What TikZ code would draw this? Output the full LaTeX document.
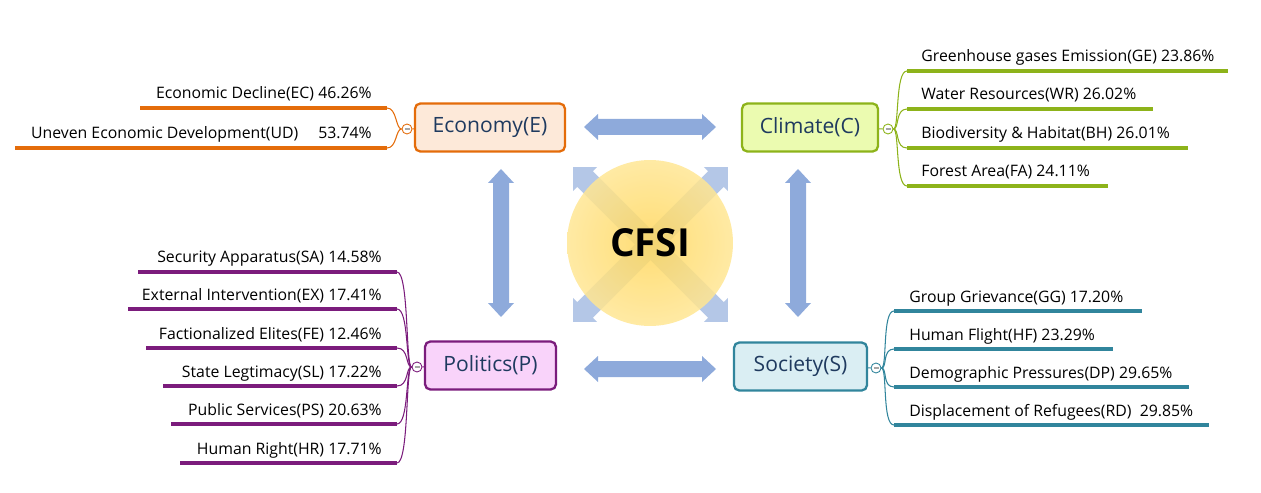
\documentclass[tikz,border=0pt]{standalone}
\usepackage{fontspec}
\setmainfont{Open Sans}
\usepackage{tikz}
\usetikzlibrary{positioning}
\definecolor{econline}{HTML}{E46C0A}
\definecolor{econfill}{HTML}{FDE9D9}
\definecolor{climline}{HTML}{8DB31A}
\definecolor{climfill}{HTML}{EBFBB0}
\definecolor{politline}{HTML}{7B1C7C}
\definecolor{politfill}{HTML}{F9D3FA}
\definecolor{socline}{HTML}{31859C}
\definecolor{socfill}{HTML}{DAEEF3}
\definecolor{arrowblue}{HTML}{8EAADB}
\definecolor{crossblue}{HTML}{B4C7E7}
\definecolor{labelblue}{HTML}{1F3A5F}
\definecolor{coreinner}{HTML}{FFD75C}
\definecolor{coreouter}{HTML}{FFE694}

% centre, angle, length, shaft half, head half, head length, colour
\newcommand{\dblarrow}[7]{%
	\begin{scope}[shift={#1},rotate=#2]
		\fill[#7] ({-#3/2},0) -- ({-#3/2+#6},{-#5}) -- ({-#3/2+#6},{-#4}) -- ({#3/2-#6},{-#4})
			-- ({#3/2-#6},{-#5}) -- ({#3/2},0) -- ({#3/2-#6},{#5}) -- ({#3/2-#6},{#4})
			-- ({-#3/2+#6},{#4}) -- ({-#3/2+#6},{#5}) -- cycle;
	\end{scope}}

\begin{document}
\begin{tikzpicture}[x=0.02cm, y=-0.02cm,
	factor/.style={draw=#1, line width=1.3pt, rounded corners=3pt, minimum height=0.96cm,
		font=\fontsize{12}{14}\selectfont, text=labelblue},
	item/.style={font=\fontsize{9}{11}\selectfont, inner sep=0pt},
	knob/.style={circle, draw=#1, fill=white, line width=0.5pt, minimum size=0.2cm, inner sep=0pt,
		node contents={\textcolor{gray!70}{\rule{0.1cm}{0.6pt}}}},
	twig/.style={draw=#1, line width=0.6pt},
	underline/.style={draw=#1, line width=2.2pt}]
	\path[use as bounding box] (0,0) rectangle (1261,493);

	% cross behind the core
	\dblarrow{(650.5,244.5)}{45}{219}{11}{17}{17}{crossblue}
	\dblarrow{(650.5,244.5)}{-45}{219}{11}{17}{17}{crossblue}
	% core
	\node[circle, minimum size=3.32cm, inner color=coreinner, outer color=coreouter,
		fill opacity=0.85, text opacity=1, font=\fontsize{22}{24}\selectfont\bfseries] (core) at (650,243) {CFSI};

	% links between factors
	\dblarrow{(650,127)}{0}{132}{8}{13}{14}{arrowblue}
	\dblarrow{(650,369)}{0}{132}{8}{13}{14}{arrowblue}
	\dblarrow{(501,243)}{90}{148}{8}{13}{14}{arrowblue}
	\dblarrow{(798,243)}{90}{148}{8}{13}{14}{arrowblue}

	% factors
	\node[factor=econline, fill=econfill, minimum width=3cm] (economy) at (490,127.5) {Economy(E)};
	\node[factor=climline, fill=climfill, minimum width=2.72cm] (climate) at (810,127.5) {Climate(C)};
	\node[factor=politline, fill=politfill, minimum width=2.62cm] (politics) at (490.5,365.5) {Politics(P)};
	\node[factor=socline, fill=socfill, minimum width=2.66cm] (society) at (800.5,366.5) {Society(S)};

	% knobs
	\node (econknob) at (407,129) [knob=econline];
	\node (climknob) at (888,129) [knob=climline];
	\node (polknob) at (417,367) [knob=politline];
	\node (socknob) at (876,368) [knob=socline];
	\draw[twig=econline] (econknob) -- (economy);
	\draw[twig=climline] (climknob) -- (climate);
	\draw[twig=politline] (polknob) -- (politics);
	\draw[twig=socline] (socknob) -- (society);

	% economy
	\foreach \id/\y/\xs/\txt in {EC/108/140/Economic Decline(EC) 46.26\%,
			UD/148/15/Uneven Economic Development(UD)\quad\ 53.74\%} {
		\coordinate (\id-l) at (\xs,\y);
		\coordinate (\id-r) at (387,\y);
		\node[item, anchor=base east] (\id) at (372,\y-9) {\txt};
		\draw[underline=econline] (\id-l) -- (\id-r);
		\draw[twig=econline] (econknob.west) .. controls +(-6,0) and +(10,0) .. (\id-r);
	}

	% climate
	\foreach \id/\y/\xe/\txt in {GE/71/1228/Greenhouse gases Emission(GE) 23.86\%,
			WR/109/1153/Water Resources(WR) 26.02\%,
			BH/148/1188/Biodiversity \& Habitat(BH) 26.01\%,
			FA/186/1108/Forest Area(FA) 24.11\%} {
		\coordinate (\id-l) at (907,\y);
		\coordinate (\id-r) at (\xe,\y);
		\node[item, anchor=base west] (\id) at (921,\y-9) {\txt};
		\draw[underline=climline] (\id-l) -- (\id-r);
		\draw[twig=climline] (climknob.east) .. controls +(6,0) and +(-12,0) .. (\id-l);
	}

	% politics
	\foreach \id/\y/\xs/\txt in {SA/272/138/Security Apparatus(SA) 14.58\%,
			EX/309/128/External Intervention(EX) 17.41\%,
			FE/348/146/Factionalized Elites(FE) 12.46\%,
			SL/386/163/State Legtimacy(SL) 17.22\%,
			PS/424/171/Public Services(PS) 20.63\%,
			HR/463/180/Human Right(HR) 17.71\%} {
		\coordinate (\id-l) at (\xs,\y);
		\coordinate (\id-r) at (397,\y);
		\node[item, anchor=base east] (\id) at (382,\y-9) {\txt};
		\draw[underline=politline] (\id-l) -- (\id-r);
		\draw[twig=politline] (polknob.west) .. controls +(-6,0) and +(12,0) .. (\id-r);
	}

	% society
	\foreach \id/\y/\xe/\txt in {GG/311/1142/Group Grievance(GG) 17.20\%,
			HF/349/1113/Human Flight(HF) 23.29\%,
			DP/387/1189/Demographic Pressures(DP) 29.65\%,
			RD/425/1209/Displacement of Refugees(RD)\ \ 29.85\%} {
		\coordinate (\id-l) at (894,\y);
		\coordinate (\id-r) at (\xe,\y);
		\node[item, anchor=base west] (\id) at (909,\y-9) {\txt};
		\draw[underline=socline] (\id-l) -- (\id-r);
		\draw[twig=socline] (socknob.east) .. controls +(6,0) and +(-12,0) .. (\id-l);
	}
\end{tikzpicture}
\end{document}
